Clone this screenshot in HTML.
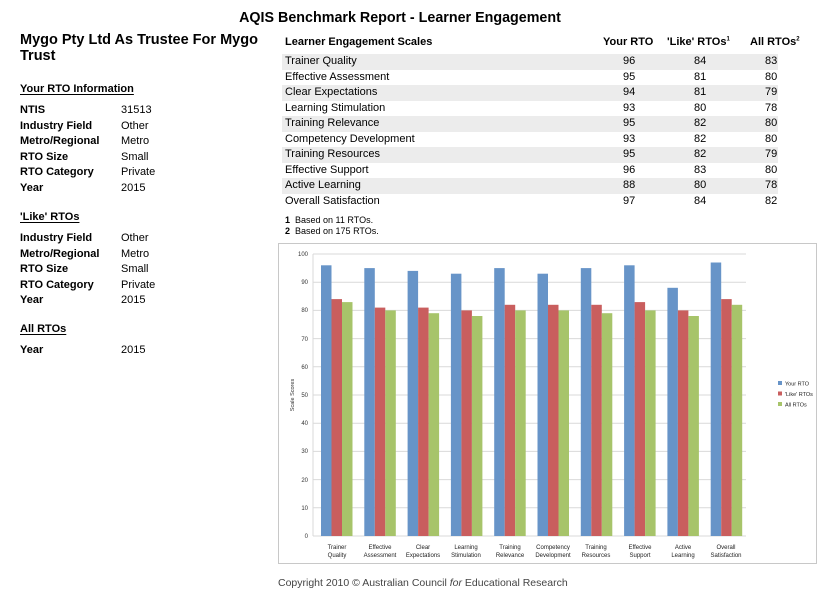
<!DOCTYPE html><html><head><meta charset="utf-8"><style>
body{margin:0;width:833px;height:593px;background:#fff;font-family:"Liberation Sans",sans-serif;position:relative;overflow:hidden;color:#000}
.a{position:absolute;white-space:nowrap}
.b{font-weight:bold}
.s{font-size:11px}
.h{font-size:11px;font-weight:bold;text-decoration:underline;text-underline-offset:2px}
.row{position:absolute;left:282px;width:496px;height:15.5px;font-size:11px;line-height:15.5px}
.row span{position:absolute}
.sh{background:#ececec}
</style></head><body>
<div class="a b" style="left:0;width:800px;text-align:center;top:10px;font-size:14.3px">AQIS Benchmark Report - Learner Engagement</div>
<div class="a b" style="left:20px;top:32px;font-size:14.5px;line-height:16px">Mygo Pty Ltd As Trustee For Mygo<br>Trust</div>
<div class="a h" style="left:20px;top:83px">Your RTO Information</div>
<div class="a b s" style="left:20px;top:103px;line-height:15.5px">NTIS<br>Industry Field<br>Metro/Regional<br>RTO Size<br>RTO Category<br>Year</div>
<div class="a s" style="left:121px;top:103px;line-height:15.5px">31513<br>Other<br>Metro<br>Small<br>Private<br>2015</div>
<div class="a h" style="left:20px;top:211px">'Like' RTOs</div>
<div class="a b s" style="left:20px;top:231px;line-height:15.5px">Industry Field<br>Metro/Regional<br>RTO Size<br>RTO Category<br>Year</div>
<div class="a s" style="left:121px;top:231px;line-height:15.5px">Other<br>Metro<br>Small<br>Private<br>2015</div>
<div class="a h" style="left:20px;top:323px">All RTOs</div>
<div class="a b s" style="left:20px;top:344px">Year</div>
<div class="a s" style="left:121px;top:344px">2015</div>

<div class="a b s" style="left:285px;top:36px">Learner Engagement Scales</div>
<div class="a b s" style="left:603px;top:36px">Your RTO</div>
<div class="a b s" style="left:667px;top:36px">'Like' RTOs<sup style="font-size:6px">1</sup></div>
<div class="a b s" style="left:750px;top:36px">All RTOs<sup style="font-size:6px">2</sup></div>

<div class="row sh" style="top:54px"><span style="left:3px">Trainer Quality</span><span style="left:341px">96</span><span style="left:412px">84</span><span style="left:483px">83</span></div>
<div class="row" style="top:69.5px"><span style="left:3px">Effective Assessment</span><span style="left:341px">95</span><span style="left:412px">81</span><span style="left:483px">80</span></div>
<div class="row sh" style="top:85px"><span style="left:3px">Clear Expectations</span><span style="left:341px">94</span><span style="left:412px">81</span><span style="left:483px">79</span></div>
<div class="row" style="top:100.5px"><span style="left:3px">Learning Stimulation</span><span style="left:341px">93</span><span style="left:412px">80</span><span style="left:483px">78</span></div>
<div class="row sh" style="top:116px"><span style="left:3px">Training Relevance</span><span style="left:341px">95</span><span style="left:412px">82</span><span style="left:483px">80</span></div>
<div class="row" style="top:131.5px"><span style="left:3px">Competency Development</span><span style="left:341px">93</span><span style="left:412px">82</span><span style="left:483px">80</span></div>
<div class="row sh" style="top:147px"><span style="left:3px">Training Resources</span><span style="left:341px">95</span><span style="left:412px">82</span><span style="left:483px">79</span></div>
<div class="row" style="top:162.5px"><span style="left:3px">Effective Support</span><span style="left:341px">96</span><span style="left:412px">83</span><span style="left:483px">80</span></div>
<div class="row sh" style="top:178px"><span style="left:3px">Active Learning</span><span style="left:341px">88</span><span style="left:412px">80</span><span style="left:483px">78</span></div>
<div class="row" style="top:193.5px"><span style="left:3px">Overall Satisfaction</span><span style="left:341px">97</span><span style="left:412px">84</span><span style="left:483px">82</span></div>
<div class="a" style="left:285px;top:215px;font-size:9px;line-height:11px"><b>1</b>&nbsp; Based on 11 RTOs.<br><b>2</b>&nbsp; Based on 175 RTOs.</div>

<svg class="a" style="left:0;top:0" width="833" height="593" font-family="Liberation Sans, sans-serif">
<rect x="278.5" y="243.5" width="538" height="320" fill="none" stroke="#c8c8c8"/>
<g stroke="#d9d9d9" stroke-width="1">
<line x1="313" x2="746" y1="254" y2="254"/><line x1="313" x2="746" y1="282.2" y2="282.2"/><line x1="313" x2="746" y1="310.4" y2="310.4"/><line x1="313" x2="746" y1="338.6" y2="338.6"/><line x1="313" x2="746" y1="366.8" y2="366.8"/><line x1="313" x2="746" y1="395" y2="395"/><line x1="313" x2="746" y1="423.2" y2="423.2"/><line x1="313" x2="746" y1="451.4" y2="451.4"/><line x1="313" x2="746" y1="479.6" y2="479.6"/><line x1="313" x2="746" y1="507.8" y2="507.8"/><line x1="313" x2="746" y1="536" y2="536"/>
<line x1="313" x2="313" y1="254" y2="536"/>
</g>
<g font-size="6" text-anchor="end" fill="#333">
<text x="308" y="256">100</text><text x="308" y="284">90</text><text x="308" y="312">80</text><text x="308" y="341">70</text><text x="308" y="369">60</text><text x="308" y="397">50</text><text x="308" y="425">40</text><text x="308" y="453">30</text><text x="308" y="482">20</text><text x="308" y="510">10</text><text x="308" y="538">0</text>
</g>
<text transform="translate(294,395) rotate(-90)" font-size="5.5" text-anchor="middle" fill="#333">Scale Scores</text>
<g>
<g transform="translate(321,0)"><rect y="265.3" width="10.5" height="270.7" fill="#6794c8"/><rect x="10.5" y="299.1" width="10.5" height="236.9" fill="#c95e5e"/><rect x="21" y="302.1" width="10.5" height="233.9" fill="#a7c46a"/></g>
<g transform="translate(364.3,0)"><rect y="268.1" width="10.5" height="267.9" fill="#6794c8"/><rect x="10.5" y="307.6" width="10.5" height="228.4" fill="#c95e5e"/><rect x="21" y="310.4" width="10.5" height="225.6" fill="#a7c46a"/></g>
<g transform="translate(407.6,0)"><rect y="270.9" width="10.5" height="265.1" fill="#6794c8"/><rect x="10.5" y="307.6" width="10.5" height="228.4" fill="#c95e5e"/><rect x="21" y="313.2" width="10.5" height="222.8" fill="#a7c46a"/></g>
<g transform="translate(450.9,0)"><rect y="273.7" width="10.5" height="262.3" fill="#6794c8"/><rect x="10.5" y="310.4" width="10.5" height="225.6" fill="#c95e5e"/><rect x="21" y="316" width="10.5" height="220" fill="#a7c46a"/></g>
<g transform="translate(494.2,0)"><rect y="268.1" width="10.5" height="267.9" fill="#6794c8"/><rect x="10.5" y="304.8" width="10.5" height="231.2" fill="#c95e5e"/><rect x="21" y="310.4" width="10.5" height="225.6" fill="#a7c46a"/></g>
<g transform="translate(537.5,0)"><rect y="273.7" width="10.5" height="262.3" fill="#6794c8"/><rect x="10.5" y="304.8" width="10.5" height="231.2" fill="#c95e5e"/><rect x="21" y="310.4" width="10.5" height="225.6" fill="#a7c46a"/></g>
<g transform="translate(580.8,0)"><rect y="268.1" width="10.5" height="267.9" fill="#6794c8"/><rect x="10.5" y="304.8" width="10.5" height="231.2" fill="#c95e5e"/><rect x="21" y="313.2" width="10.5" height="222.8" fill="#a7c46a"/></g>
<g transform="translate(624.1,0)"><rect y="265.3" width="10.5" height="270.7" fill="#6794c8"/><rect x="10.5" y="302.1" width="10.5" height="233.9" fill="#c95e5e"/><rect x="21" y="310.4" width="10.5" height="225.6" fill="#a7c46a"/></g>
<g transform="translate(667.4,0)"><rect y="287.8" width="10.5" height="248.2" fill="#6794c8"/><rect x="10.5" y="310.4" width="10.5" height="225.6" fill="#c95e5e"/><rect x="21" y="316" width="10.5" height="220" fill="#a7c46a"/></g>
<g transform="translate(710.7,0)"><rect y="262.5" width="10.5" height="273.5" fill="#6794c8"/><rect x="10.5" y="299.1" width="10.5" height="236.9" fill="#c95e5e"/><rect x="21" y="304.8" width="10.5" height="231.2" fill="#a7c46a"/></g>
</g>
<g font-size="6" text-anchor="middle" fill="#222">
<text x="337" y="549">Trainer</text><text x="337" y="557">Quality</text>
<text x="380" y="549">Effective</text><text x="380" y="557">Assessment</text>
<text x="423" y="549">Clear</text><text x="423" y="557">Expectations</text>
<text x="466" y="549">Learning</text><text x="466" y="557">Stimulation</text>
<text x="510" y="549">Training</text><text x="510" y="557">Relevance</text>
<text x="553" y="549">Competency</text><text x="553" y="557">Development</text>
<text x="596" y="549">Training</text><text x="596" y="557">Resources</text>
<text x="640" y="549">Effective</text><text x="640" y="557">Support</text>
<text x="683" y="549">Active</text><text x="683" y="557">Learning</text>
<text x="726" y="549">Overall</text><text x="726" y="557">Satisfaction</text>
</g>
<rect x="778" y="381" width="4" height="4" fill="#6794c8"/><rect x="778" y="391.5" width="4" height="4" fill="#c95e5e"/><rect x="778" y="402" width="4" height="4" fill="#a7c46a"/>
<g font-size="5.5" fill="#222"><text x="785" y="385.5">Your RTO</text><text x="785" y="396">'Like' RTOs</text><text x="785" y="406.5">All RTOs</text></g>
</svg>
<div class="a" style="left:278px;top:577px;font-size:10.5px;color:#444">Copyright 2010 © Australian Council <i>for</i> Educational Research</div>
</body></html>
